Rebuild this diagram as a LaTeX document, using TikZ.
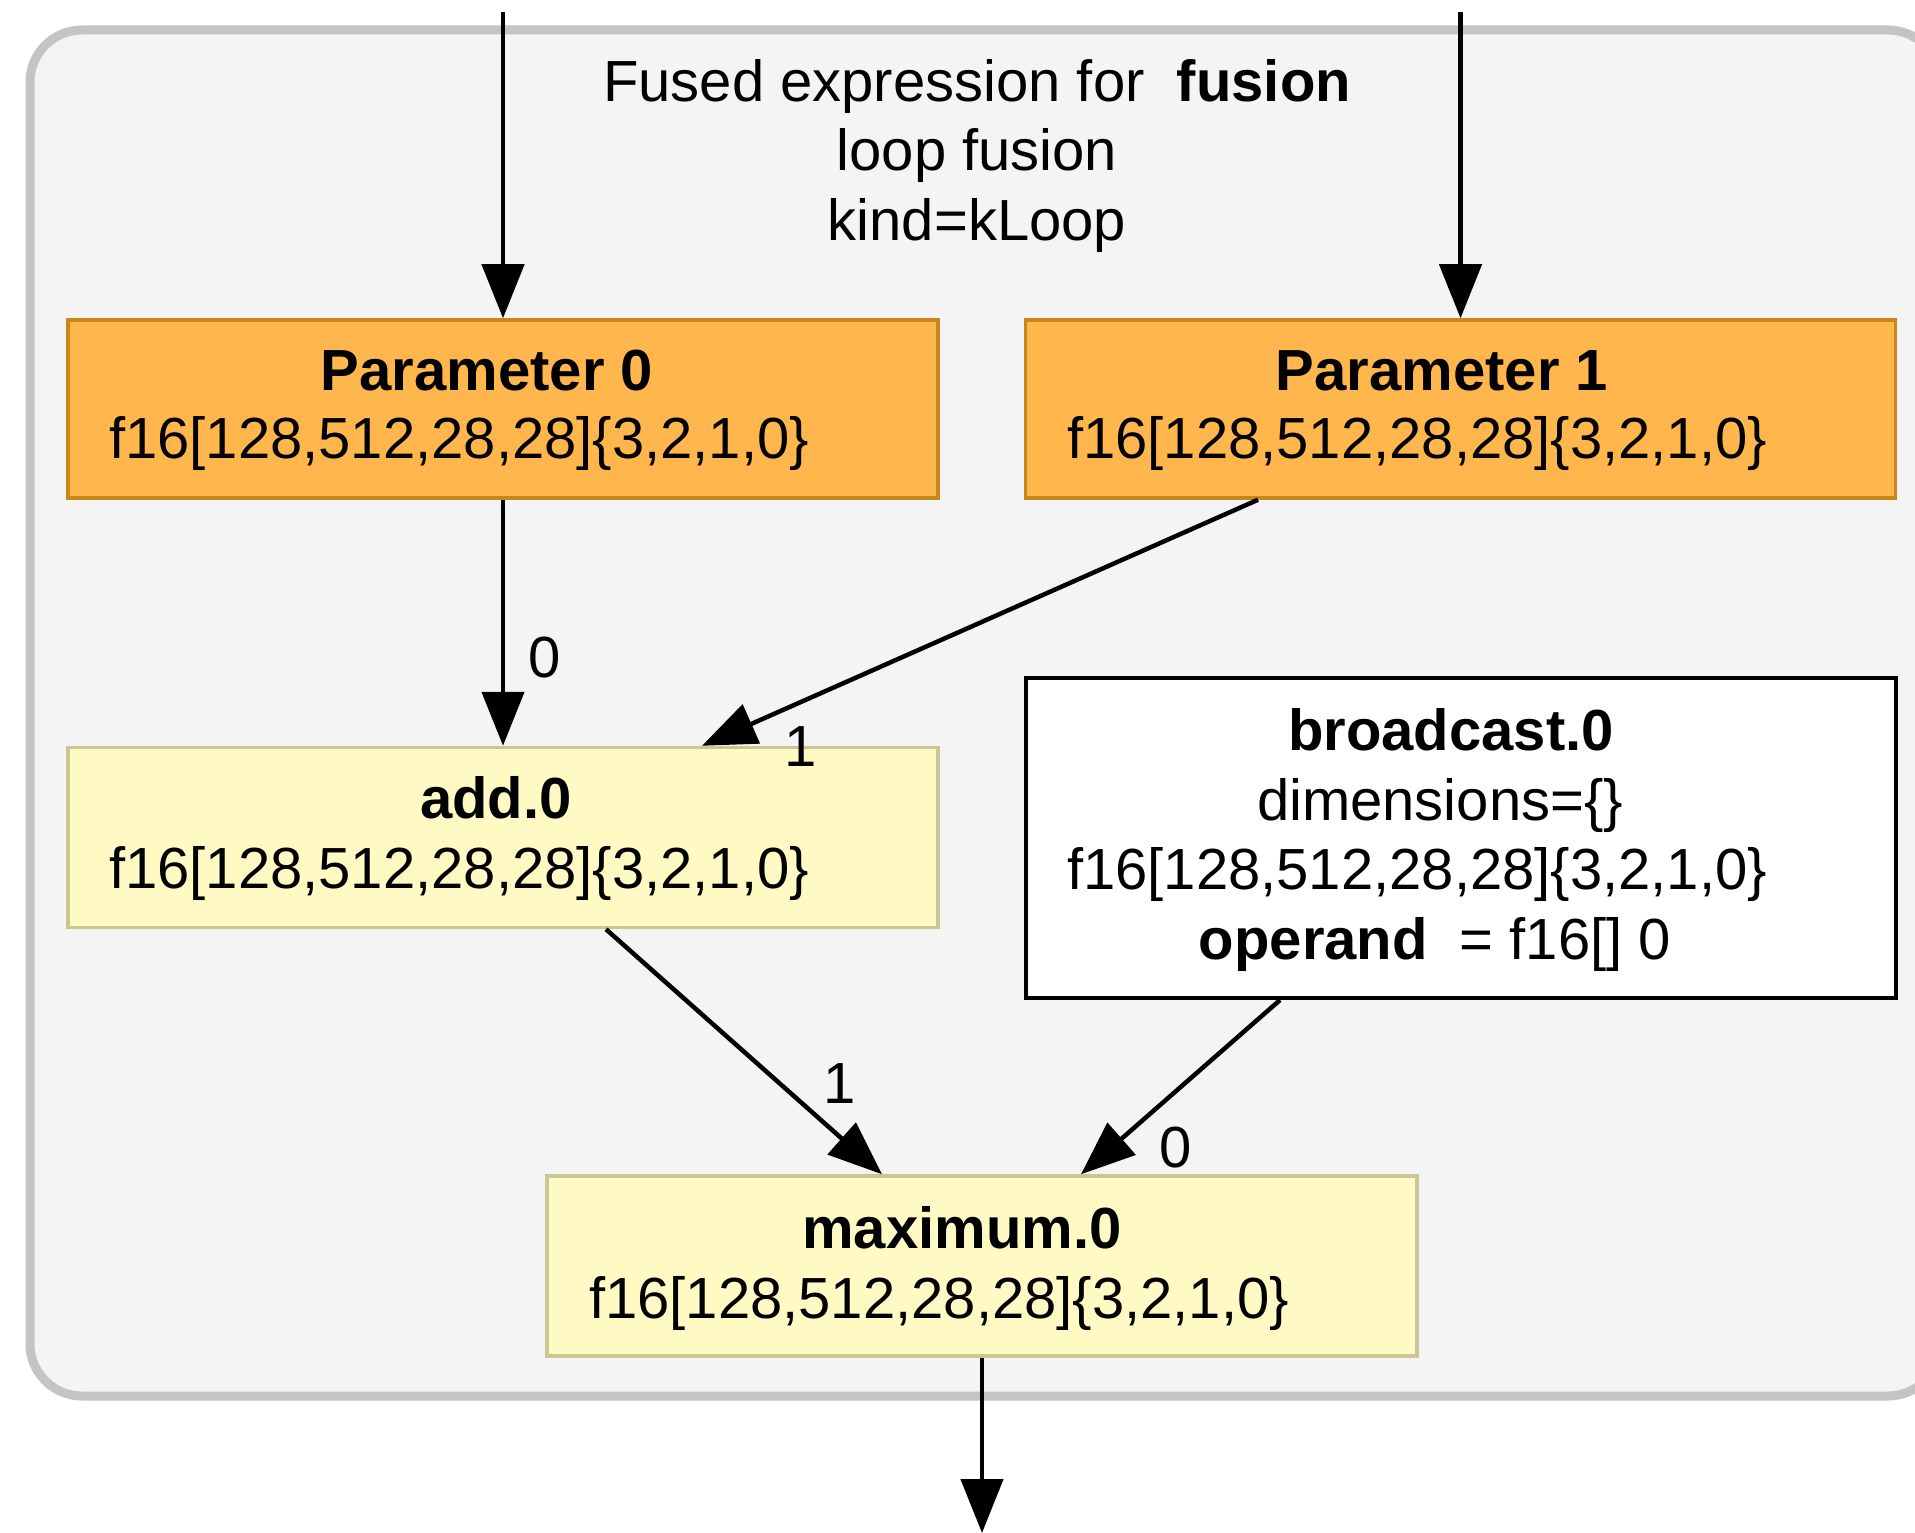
\documentclass[tikz,border=0pt]{standalone}
\usepackage{fontspec}
\setmainfont{Liberation Sans}
\usetikzlibrary{arrows.meta}
\definecolor{orfill}{HTML}{FFB74D}
\definecolor{ordraw}{HTML}{C88719}
\definecolor{yefill}{HTML}{FFF9C4}
\definecolor{yedraw}{HTML}{CBC693}
\definecolor{clfill}{HTML}{F4F4F4}
\definecolor{cldraw}{HTML}{C4C4C4}
\begin{document}
\begin{tikzpicture}[x=1pt,y=-1pt,
  nodebox/.style={draw, line width=3.5pt, minimum width=870pt, inner sep=0pt, anchor=center},
  orbox/.style={nodebox, fill=orfill, draw=ordraw, minimum height=178pt},
  yebox/.style={nodebox, fill=yefill, draw=yedraw, minimum height=180pt},
  whbox/.style={nodebox, fill=white, draw=black, line width=4pt, minimum height=320pt},
  txt/.style={font=\fontsize{58}{70}\selectfont, inner sep=0pt, anchor=base},
  btxt/.style={txt, font=\fontsize{58}{70}\selectfont\bfseries},
  edge/.style={line width=4.5pt, -{Triangle[length=54pt,width=42pt]}}
]
\useasboundingbox (0,0) rectangle (1915,1533);
\clip (0,0) rectangle (1915,1533);
\fill[white] (0,0) rectangle (1915,1533);

% cluster
\draw[draw=cldraw, fill=clfill, line width=9pt, rounded corners=52pt] (30,30) rectangle (1940,1396);

% title
\node[txt] (t1) at (977,102) {Fused expression for \ \textbf{fusion}};
\node[txt] (t2) at (977,171) {loop fusion};
\node[txt] (t3) at (977,241) {kind=kLoop};

% boxes
\node[orbox] (p0) at (503,409) {};
\node[orbox] (p1) at (1460.5,409) {};
\node[yebox] (add) at (503,837.5) {};
\node[whbox] (bc) at (1460.5,838) {};
\node[yebox] (mx) at (982,1266) {};

% box texts
\node[btxt] (p0a) at (487,390) {Parameter 0};
\node[txt]  (p0b) at (459,458) {f16[128,512,28,28]\{3,2,1,0\}};
\node[btxt] (p1a) at (1442,390) {Parameter 1};
\node[txt]  (p1b) at (1417,458) {f16[128,512,28,28]\{3,2,1,0\}};
\node[btxt] (adda) at (496,818) {add.0};
\node[txt]  (addb) at (459,888) {f16[128,512,28,28]\{3,2,1,0\}};
\node[btxt] (bca) at (1451,750) {broadcast.0};
\node[txt]  (bcb) at (1440,820) {dimensions=\{\}};
\node[txt]  (bcc) at (1417,889) {f16[128,512,28,28]\{3,2,1,0\}};
\node[txt]  (bcd) at (1435,959) {\textbf{operand} \ = f16[] 0};
\node[btxt] (mxa) at (962,1248) {maximum.0};
\node[txt]  (mxb) at (939,1318) {f16[128,512,28,28]\{3,2,1,0\}};

% free ends
\coordinate (in0) at (503,12);
\coordinate (in1) at (1460.5,12);
\coordinate (out) at (982,1533);

% edges
\draw[edge] (in0) -- (p0.north);
\draw[edge] (in1) -- (p1.north);
\draw[edge] (p0.south) -- (add.north);
\draw[edge] ([xshift=-202.5pt]p1.south) -- ([xshift=199pt]add.north);
\draw[edge] ([xshift=103pt]add.south) -- ([xshift=-100pt]mx.north);
\draw[edge] ([xshift=-180.5pt]bc.south) -- ([xshift=99pt]mx.north);
\draw[edge] (mx.south) -- (out);

% edge labels
\node[txt] (l1) at (545,677) {0};
\node[txt] (l2) at (801,766) {1};
\node[txt] (l3) at (840,1103) {1};
\node[txt] (l4) at (1176,1167) {0};
\end{tikzpicture}
\end{document}
